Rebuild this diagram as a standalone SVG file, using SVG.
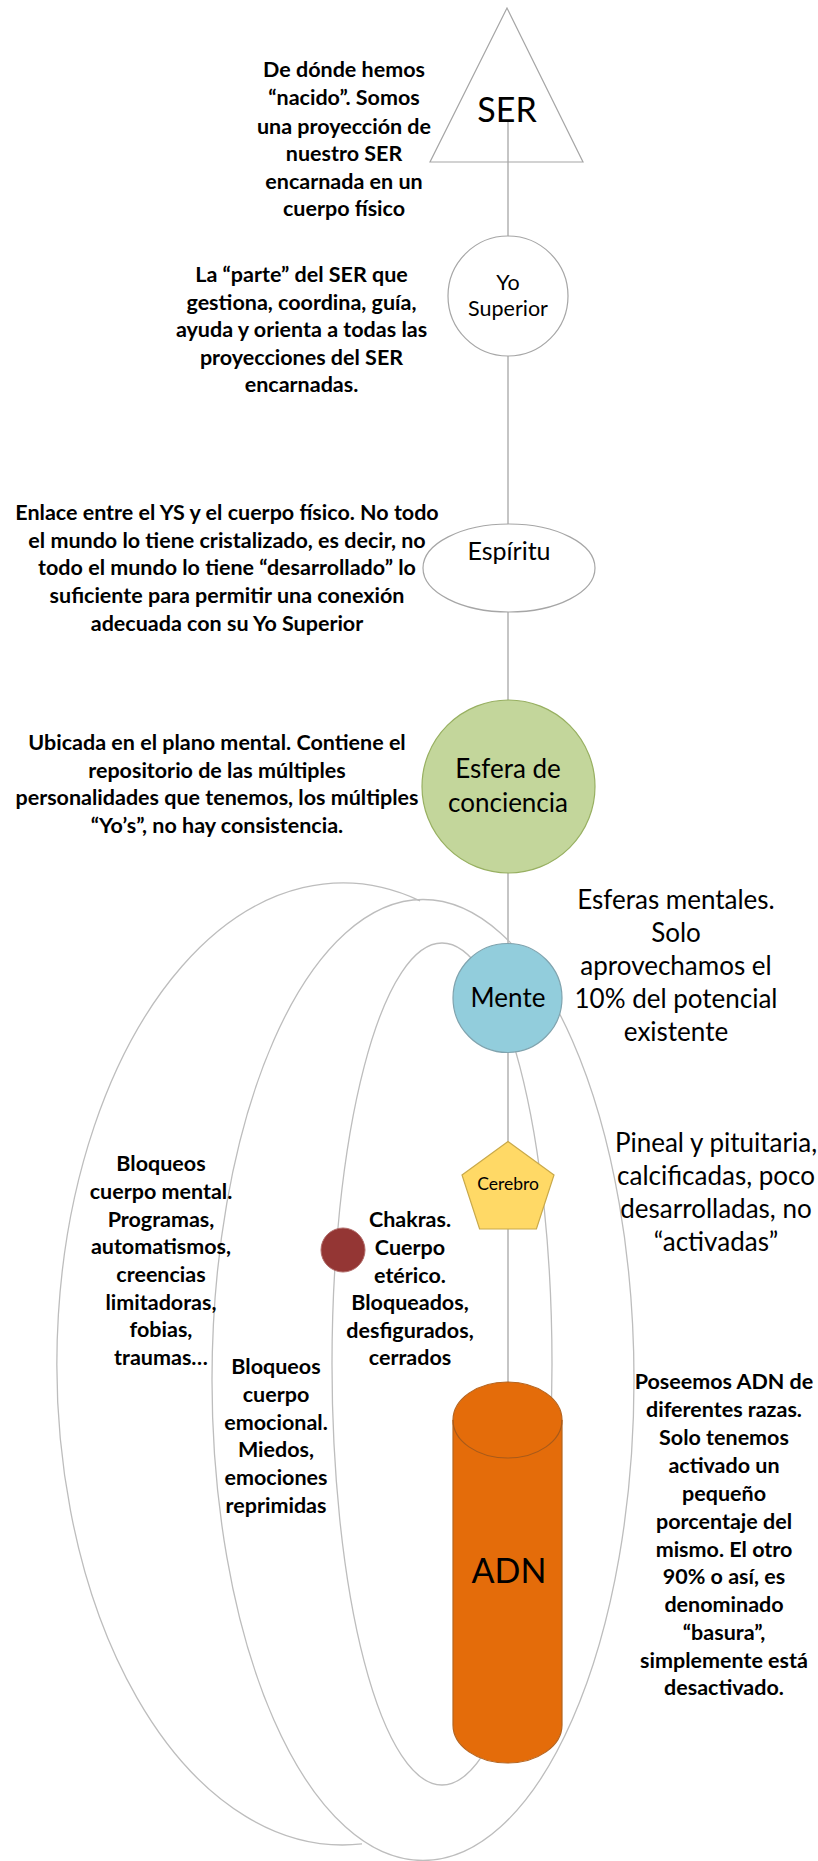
<svg xmlns="http://www.w3.org/2000/svg" width="818" height="1861" viewBox="0 0 818 1861">
<style>
text{font-family:Lato,"Liberation Sans",sans-serif;fill:#000;text-anchor:middle}
.b{font-weight:bold;font-size:21.5px}
.r{font-size:26px}
.lbl{font-size:26px}
.loop{fill:none;stroke:#BDBDBD;stroke-width:1.3}
.conn{fill:none;stroke:#A6A6A6;stroke-width:1.3}
.shape{stroke:#A6A6A6;stroke-width:1.2}
</style>
<rect width="818" height="1861" fill="#fff"/>
<g id="connectors">
<line class="conn" x1="508" y1="122" x2="508" y2="1385"/>
<path class="loop" d="M420,900.8 A286,481 0 1,0 362,1843.9"/>
<ellipse class="loop" cx="423" cy="1380" rx="211" ry="480.5"/>
<ellipse class="loop" cx="442" cy="1364" rx="110" ry="421"/>
</g>
<g id="ser">
<polygon class="shape" points="507,8 430,162 583,162" fill="none"/>
<text x="507" y="122" style="font-size:34px">SER</text>
</g>
<g id="yo-superior">
<circle class="shape" cx="508" cy="296" r="60" fill="#fff"/>
<text class="lbl" x="508" y="290" style="font-size:21.5px">Yo</text>
<text class="lbl" x="508" y="316" style="font-size:21.5px">Superior</text>
</g>
<g id="espiritu">
<ellipse class="shape" cx="509" cy="568" rx="86" ry="44" fill="#fff"/>
<text class="lbl" x="509" y="560" style="font-size:25px">Espíritu</text>
</g>
<g id="esfera">
<circle cx="508.5" cy="786.5" r="86.5" fill="#C3D69B" stroke="#98B062" stroke-width="1.2"/>
<text class="lbl" x="508" y="778">Esfera de</text>
<text class="lbl" x="508" y="812">conciencia</text>
</g>
<g id="mente">
<circle cx="507.5" cy="998" r="54.5" fill="#92CDDC" stroke="#7FA3AE" stroke-width="1.2"/>
<text class="lbl" x="508" y="1007">Mente</text>
</g>
<g id="cerebro">
<polygon points="508,1141.6 554,1175 536.4,1229 479.6,1229 462,1175" fill="#FFD966" stroke="#C9A94A" stroke-width="1.2"/>
<text x="508" y="1190" style="font-size:17.5px">Cerebro</text>
</g>
<g id="chakra">
<circle cx="343" cy="1250" r="22" fill="#943634" stroke="#B06A68" stroke-width="1"/>
</g>
<g id="adn">
<path d="M453,1420 A54.5,38 0 0,1 562,1420 L562,1725 A54.5,38 0 0,1 453,1725 Z" fill="#E46C0A" stroke="#B5641F" stroke-width="1.2"/>
<path d="M453,1420 A54.5,38 0 0,0 562,1420" fill="none" stroke="#A85A1A" stroke-width="1.2"/>
<text x="509" y="1583" style="font-size:34px">ADN</text>
</g>
<g id="text-ser">
<text class="b" x="344" y="77">De dónde hemos</text>
<text class="b" x="344" y="105">“nacido”. Somos</text>
<text class="b" x="344" y="134">una proyección de</text>
<text class="b" x="344" y="161">nuestro SER</text>
<text class="b" x="344" y="189">encarnada en un</text>
<text class="b" x="344" y="216">cuerpo físico</text>
</g>
<g id="text-ys">
<text class="b" x="301.5" y="282">La “parte” del SER que</text>
<text class="b" x="301.5" y="310">gestiona, coordina, guía,</text>
<text class="b" x="301.5" y="337">ayuda y orienta a todas las</text>
<text class="b" x="301.5" y="365">proyecciones del SER</text>
<text class="b" x="301.5" y="392">encarnadas.</text>
</g>
<g id="text-espiritu">
<text class="b" x="227" y="520">Enlace entre el YS y el cuerpo físico. No todo</text>
<text class="b" x="227" y="548">el mundo lo tiene cristalizado, es decir, no</text>
<text class="b" x="227" y="575">todo el mundo lo tiene “desarrollado” lo</text>
<text class="b" x="227" y="603">suficiente para permitir una conexión</text>
<text class="b" x="227" y="631">adecuada con su Yo Superior</text>
</g>
<g id="text-esfera">
<text class="b" x="217" y="750">Ubicada en el plano mental. Contiene el</text>
<text class="b" x="217" y="778">repositorio de las múltiples</text>
<text class="b" x="217" y="805">personalidades que tenemos, los múltiples</text>
<text class="b" x="217" y="833">“Yo’s”, no hay consistencia.</text>
</g>
<g id="text-mente">
<text class="r" x="676" y="909">Esferas mentales.</text>
<text class="r" x="676" y="942">Solo</text>
<text class="r" x="676" y="975">aprovechamos el</text>
<text class="r" x="676" y="1008">10% del potencial</text>
<text class="r" x="676" y="1041">existente</text>
</g>
<g id="text-cerebro">
<text class="r" x="716" y="1152">Pineal y pituitaria,</text>
<text class="r" x="716" y="1185">calcificadas, poco</text>
<text class="r" x="716" y="1218">desarrolladas, no</text>
<text class="r" x="716" y="1251">“activadas”</text>
</g>
<g id="text-mental">
<text class="b" x="161" y="1171">Bloqueos</text>
<text class="b" x="161" y="1199">cuerpo mental.</text>
<text class="b" x="161" y="1227">Programas,</text>
<text class="b" x="161" y="1254">automatismos,</text>
<text class="b" x="161" y="1282">creencias</text>
<text class="b" x="161" y="1310">limitadoras,</text>
<text class="b" x="161" y="1337">fobias,</text>
<text class="b" x="161" y="1365">traumas…</text>
</g>
<g id="text-chakras">
<text class="b" x="410" y="1227">Chakras.</text>
<text class="b" x="410" y="1255">Cuerpo</text>
<text class="b" x="410" y="1283">etérico.</text>
<text class="b" x="410" y="1310">Bloqueados,</text>
<text class="b" x="410" y="1338">desfigurados,</text>
<text class="b" x="410" y="1365">cerrados</text>
</g>
<g id="text-emocional">
<text class="b" x="276" y="1374">Bloqueos</text>
<text class="b" x="276" y="1402">cuerpo</text>
<text class="b" x="276" y="1430">emocional.</text>
<text class="b" x="276" y="1457">Miedos,</text>
<text class="b" x="276" y="1485">emociones</text>
<text class="b" x="276" y="1513">reprimidas</text>
</g>
<g id="text-adn">
<text class="b" x="724" y="1389">Poseemos ADN de</text>
<text class="b" x="724" y="1417">diferentes razas.</text>
<text class="b" x="724" y="1445">Solo tenemos</text>
<text class="b" x="724" y="1473">activado un</text>
<text class="b" x="724" y="1501">pequeño</text>
<text class="b" x="724" y="1529">porcentaje del</text>
<text class="b" x="724" y="1557">mismo. El otro</text>
<text class="b" x="724" y="1584">90% o así, es</text>
<text class="b" x="724" y="1612">denominado</text>
<text class="b" x="724" y="1640">“basura”,</text>
<text class="b" x="724" y="1668">simplemente está</text>
<text class="b" x="724" y="1695">desactivado.</text>
</g>
</svg>
